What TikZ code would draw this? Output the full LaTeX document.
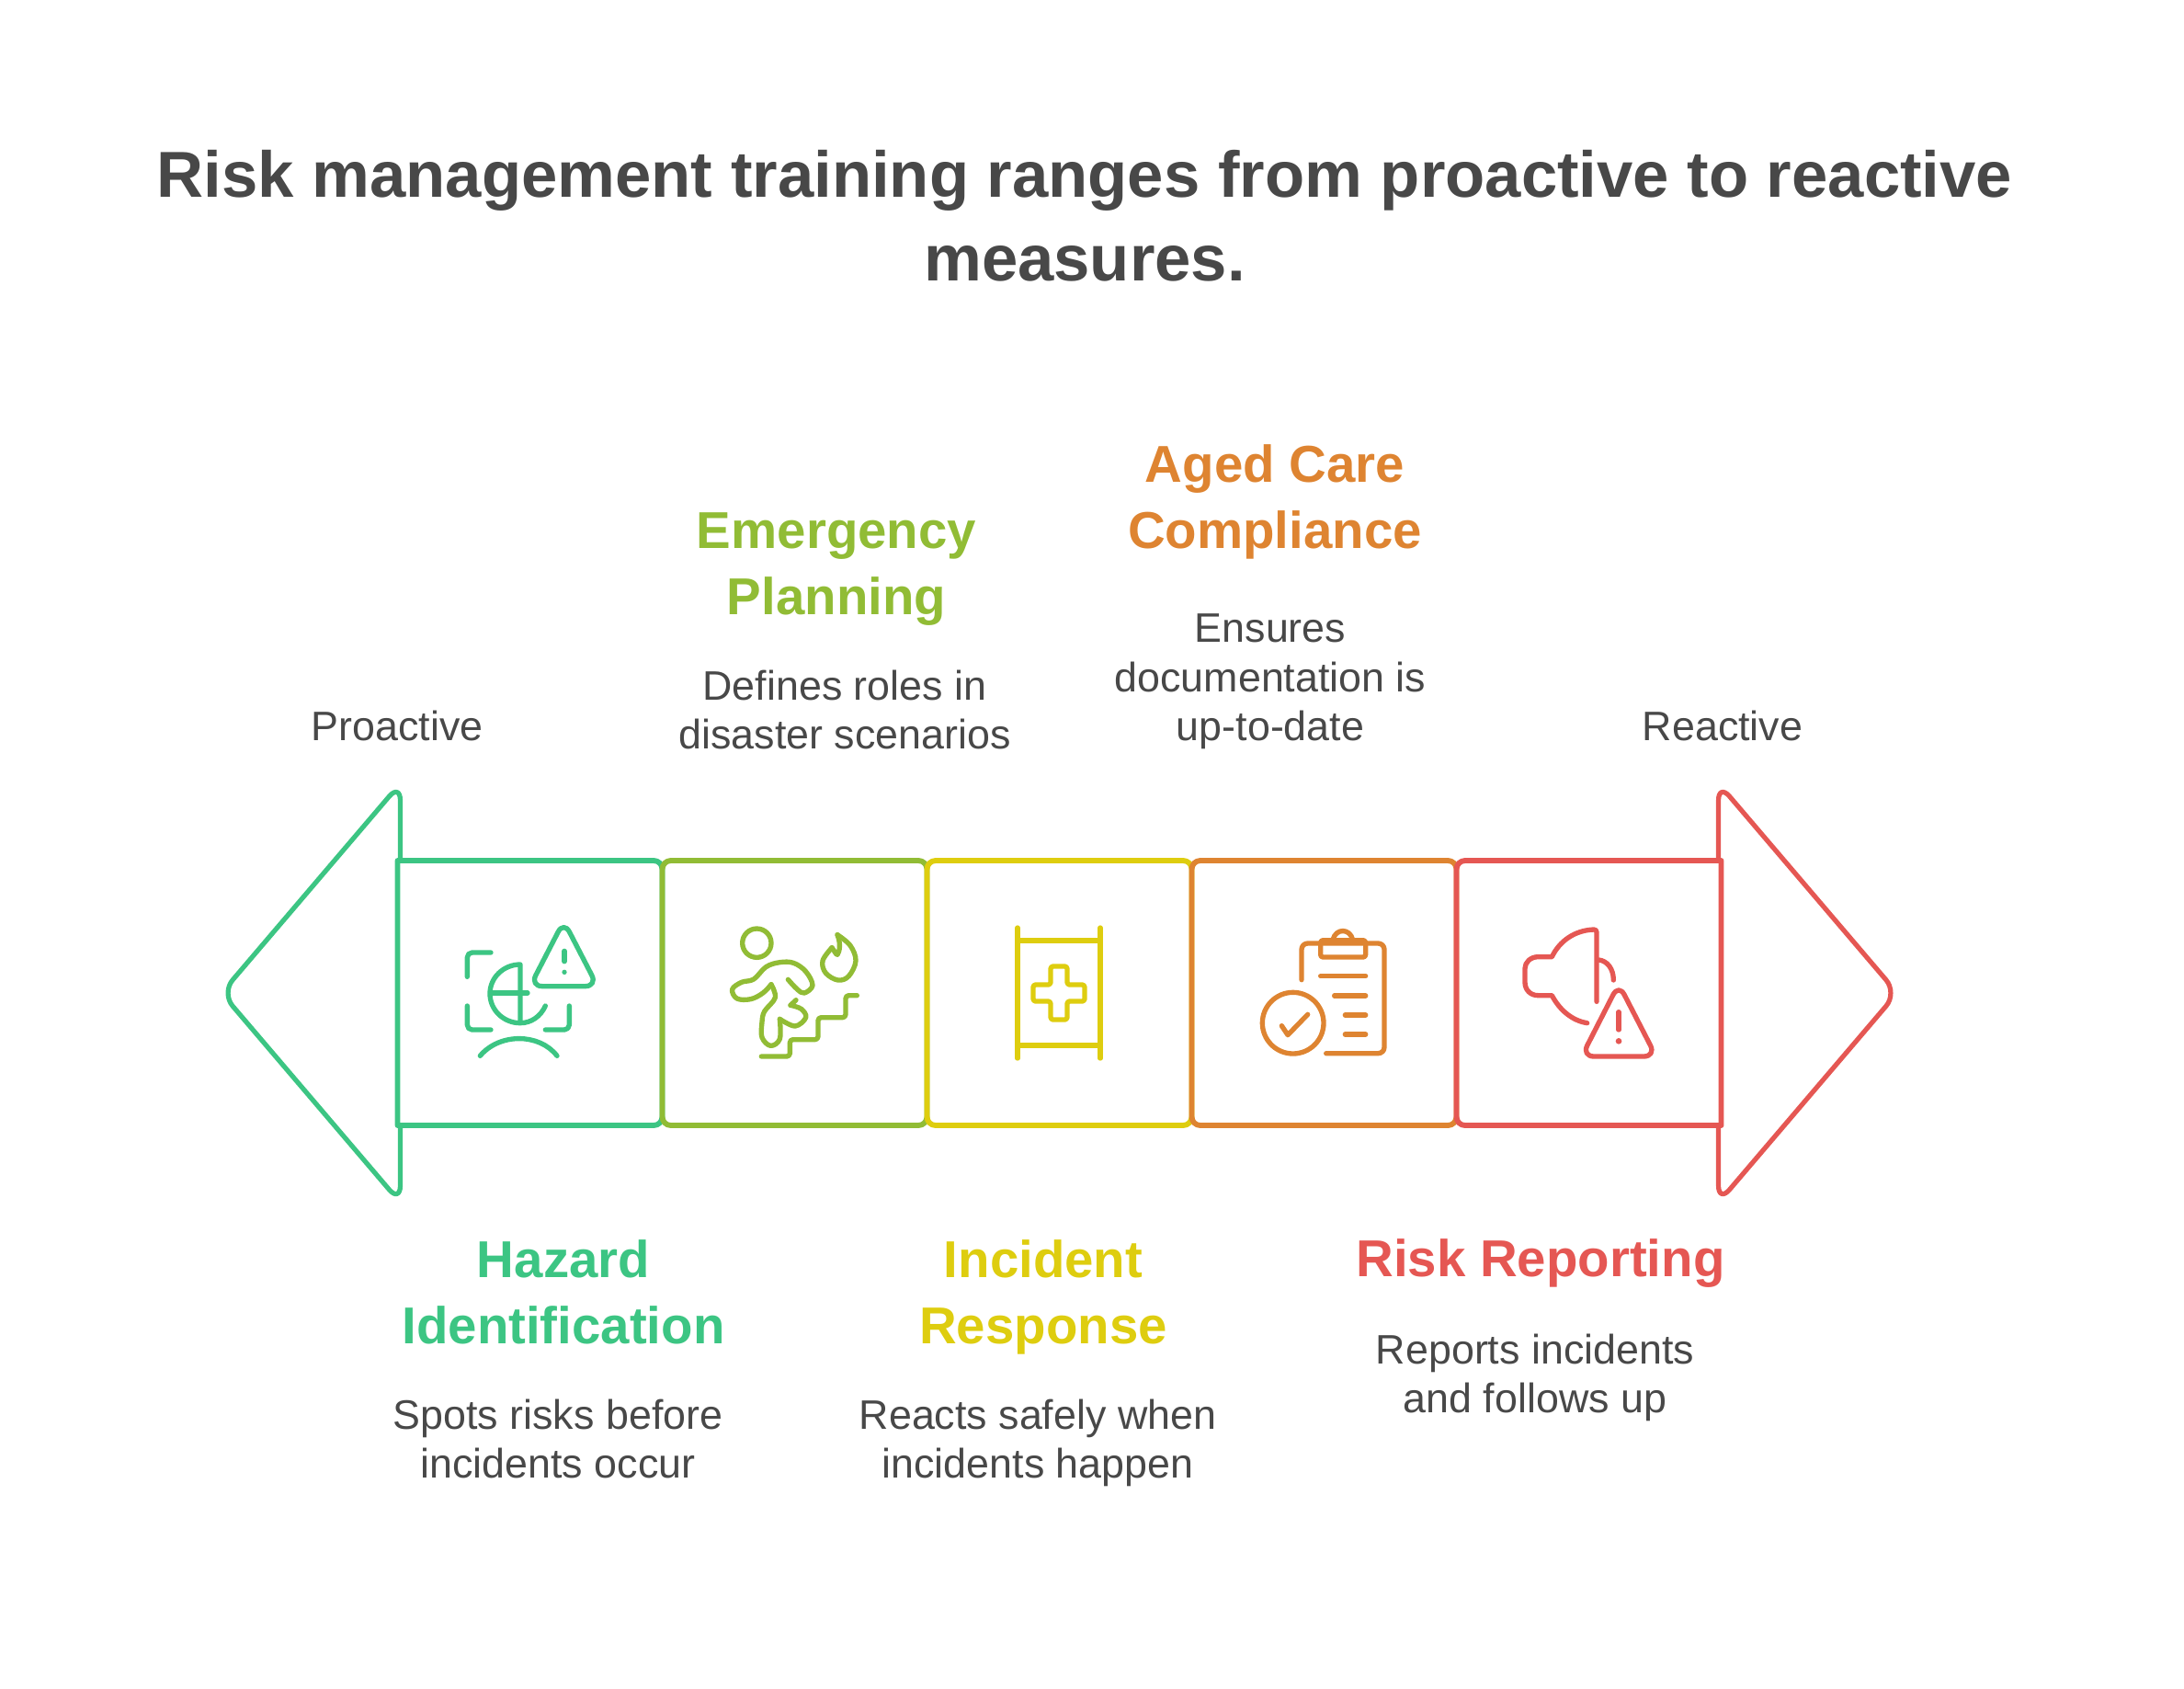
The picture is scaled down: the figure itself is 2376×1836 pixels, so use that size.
\documentclass[tikz,border=0pt]{standalone}
\usepackage{fontspec}
\setmainfont{Liberation Sans}
\definecolor{hazardcol}{HTML}{3CC583}
\definecolor{planningcol}{HTML}{91BC35}
\definecolor{responsecol}{HTML}{DECD0F}
\definecolor{compliancecol}{HTML}{DE8431}
\definecolor{reportingcol}{HTML}{E55753}
\definecolor{textcol}{HTML}{484848}
\tikzset{
	cell/.style={line width=4.4pt, line join=round},
	arrowhead/.style={line width=3.9pt, rounded corners=14pt, line join=round},
	icon/.style={line width=4pt, line cap=round, line join=round},
	titlelabel/.style={anchor=south, inner sep=0pt, text depth=0pt, align=center, text=textcol,
		font=\fontsize{53}{68.25}\selectfont\bfseries},
	headlabel/.style={anchor=south, inner sep=0pt, text depth=0pt, align=center,
		font=\fontsize{42.3}{54.2}\selectfont\bfseries},
	desclabel/.style={anchor=south, inner sep=0pt, text depth=0pt, align=center, text=textcol,
		font=\fontsize{33.6}{40.3}\selectfont},
}
\begin{document}
\begin{tikzpicture}[x=0.75pt, y=-0.75pt]
	\useasboundingbox (0,0) rectangle (2376,1836);

	%title
	\node[titlelabel] (title) at (1180,306) {Risk management training ranges from proactive to reactive\\measures.};

	%arrow heads and cells
	\draw[hazardcol, arrowhead] (435.5,936) -- (435.5,852) -- (241,1080) -- (435.5,1308) -- (435.5,1224);
	\draw[hazardcol, cell] (432.5,936) [rounded corners=7pt] -- (720.5,936) -- (720.5,1224) [sharp corners] -- (432.5,1224) -- cycle;
	\foreach \x/\col in {720.5/planningcol, 1008.5/responsecol, 1296.5/compliancecol}{
		\draw[\col, cell, rounded corners=7pt] (\x,936) rectangle (\x+288,1224);
	}
	\draw[reportingcol, cell] (1872.5,1224) [rounded corners=7pt] -- (1584.5,1224) -- (1584.5,936) [sharp corners] -- (1872.5,936) -- cycle;
	\draw[reportingcol, arrowhead] (1869.5,936) -- (1869.5,852) -- (2064,1080) -- (1869.5,1308) -- (1869.5,1224);

	%hazard icon
	\begin{scope}[shift={(480,980)}, scale=1/3, hazardcol, icon]
		\draw[rounded corners=4pt] (162,168) -- (85,168) -- (85,247);
		\draw[rounded corners=4pt] (85,342) -- (85,420) -- (162,420);
		\draw[rounded corners=4pt] (418,342) -- (418,420) -- (340,420);
		\draw (127,505) .. controls (190,430) and (320,430) .. (378,505);
		\draw (258,398) -- (258,207) .. controls (203,207) and (159,250) .. (159,302) .. controls (159,355) and (203,398) .. (258,398) .. controls (295,398) and (325,375) .. (340,342);
		\draw (163,300) -- (282,300);
		\draw[rounded corners=10pt] (400,278) -- (510,278) -- (400,65) -- (290,278) -- cycle;
		\draw (402,163) -- (402,197);
		\fill (402,232) circle[radius=8];
	\end{scope}

	%planning icon
	\begin{scope}[shift={(780,990)}, scale=1/3, planningcol, icon]
		\draw (130,107) circle[radius=47];
		\draw plot[smooth, tension=0.6] coordinates {(232,226) (262,258) (285,270) (312,245) (290,200) (250,172) (205,170) (160,185) (120,225) (80,235) (50,258) (65,288) (110,290) (150,270) (177,242)};
		\draw plot[smooth, tension=0.6] coordinates {(177,242) (190,285) (155,330) (147,365) (147,415) (175,442) (205,420) (205,355)};
		\draw plot[smooth, tension=0.6] coordinates {(205,355) (255,378) (290,350) (275,322) (240,310)};
		\draw (240,310) -- (258,293);
		\draw plot[smooth, tension=0.6] coordinates {(393,80) (435,115) (453,165) (430,215) (395,228) (355,205) (345,165) (375,122)};
		\draw (375,122) .. controls (382,130) and (388,145) .. (393,145) .. controls (400,135) and (405,110) .. (393,80);
		\draw[rounded corners=2.5pt] (145,477) -- (238,477) -- (238,422) -- (330,422) -- (330,350) -- (420,350) -- (420,278) -- (457,278);
	\end{scope}

	%response icon
	\begin{scope}[responsecol, icon]
		\draw (1107,1009) -- (1107,1151);
		\draw (1197,1009) -- (1197,1151);
		\draw[line cap=butt] (1107,1023) -- (1197,1023);
		\draw[line cap=butt] (1107,1137) -- (1197,1137);
		\draw[rounded corners=2pt] (1152,1051) -- (1161,1051) -- (1161,1071) -- (1180,1071) -- (1180,1089) -- (1161,1089) -- (1161,1109) -- (1143,1109) -- (1143,1089) -- (1124,1089) -- (1124,1071) -- (1143,1071) -- (1143,1051) -- cycle;
	\end{scope}

	%compliance icon
	\begin{scope}[shift={(1370,1000)}, scale=1/3, compliancecol, icon]
		\draw[rounded corners=5pt] (138,197) -- (138,78) -- (408,78) -- (408,437) -- (218,437);
		\draw[rounded corners=2pt] (270,68) -- (347,68) -- (347,123) -- (200,123) -- (200,68) -- cycle;
		\draw (240,66) .. controls (250,28) and (295,28) .. (305,66);
		\draw (200,185) -- (347,185);
		\draw (245,249) -- (347,249);
		\draw (280,312) -- (347,312);
		\draw (280,375) -- (347,375);
		\draw (110,338) circle[radius=100];
		\draw (73,347) -- (93,377) -- (158,310);
	\end{scope}

	%reporting icon
	\begin{scope}[shift={(1650,1000)}, scale=1/3, reportingcol, icon]
		\draw (261,268) -- (261,42) .. controls (261,36) and (258,33) .. (252,33) .. controls (190,35) and (140,70) .. (115,122) -- (70,122) .. controls (45,122) and (27,140) .. (27,160) -- (27,205) .. controls (27,230) and (45,248) .. (70,248) -- (115,248) .. controls (140,295) and (180,330) .. (230,338);
		\draw (268,132) .. controls (295,135) and (316,160) .. (316,198);
		\draw[rounded corners=10pt] (333,447) -- (455,447) -- (333,210) -- (212,447) -- cycle;
		\draw (333,302) -- (333,360);
		\fill (333,397) circle[radius=10];
	\end{scope}

	%labels
	\node[desclabel] (proactive) at (432,806) {Proactive};
	\node[desclabel] (reactive) at (1874,806) {Reactive};
	\node[headlabel, text=planningcol] (planninghead) at (910,669) {Emergency\\Planning};
	\node[desclabel] (planningdesc) at (919,815) {Defines roles in\\disaster scenarios};
	\node[headlabel, text=compliancecol] (compliancehead) at (1387,597) {Aged Care\\Compliance};
	\node[desclabel] (compliancedesc) at (1382,806) {Ensures\\documentation is\\up-to-date};
	\node[headlabel, text=hazardcol] (hazardhead) at (613,1462) {Hazard\\Identification};
	\node[desclabel] (hazarddesc) at (607,1608) {Spots risks before\\incidents occur};
	\node[headlabel, text=responsecol] (responsehead) at (1135,1462) {Incident\\Response};
	\node[desclabel] (responsedesc) at (1129,1608) {Reacts safely when\\incidents happen};
	\node[headlabel, text=reportingcol] (reportinghead) at (1676,1389) {Risk Reporting};
	\node[desclabel] (reportingdesc) at (1670,1537) {Reports incidents\\and follows up};
\end{tikzpicture}
\end{document}
